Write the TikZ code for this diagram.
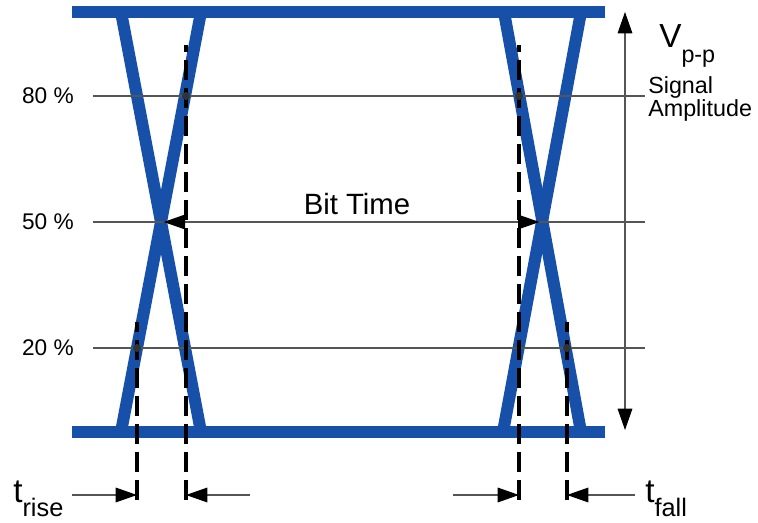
\documentclass[tikz,border=0pt]{standalone}
\usepackage{fontspec}
\setmainfont{Liberation Sans}
\usetikzlibrary{arrows.meta,positioning}
\definecolor{eyeBlue}{RGB}{22,80,168}
\definecolor{levelGray}{RGB}{85,85,85}

\begin{document}
\begin{tikzpicture}[
    x=0.75pt, y=-0.75pt,
    % Eye diagram traces
    eyeTrace/.style={
        draw=eyeBlue,
        line width=9pt
    },
    % Reference level lines
    levelLine/.style={
        draw=levelGray,
        line width=0.8pt
    },
    % Timing marker lines
    markLine/.style={
        draw=black,
        line width=2.6pt,
        dash pattern=on 15pt off 6pt
    },
    % Measurement arrows
    dimArrow/.style={
        draw=levelGray,
        line width=0.8pt,
        -{Triangle[length=16pt,width=11pt,color=black]}
    },
    % Crossing dots
    levelDot/.style={
        fill=black!80
    },
    % Text labels
    pctLabel/.style={
        anchor=east,
        inner sep=0pt,
        font=\fontsize{17}{17}\selectfont
    },
    sideLabel/.style={
        anchor=base west,
        inner sep=0pt,
        font=\fontsize{17.5}{17.5}\selectfont
    }
]

    \useasboundingbox (0,0) rectangle (758,523);

    % Levels
    \def\yTop{12}
    \def\yBot{432}

    % Level reference points
    \coordinate (crossL) at (161,222);
    \coordinate (crossR) at (542,222);
    \coordinate (riseHi) at (186,96);
    \coordinate (riseLo) at (137,348);
    \coordinate (fallHi) at (519,96);
    \coordinate (fallLo) at (567,348);

    % Rails
    \draw[eyeTrace] (72,\yTop) -- (605,\yTop);
    \draw[eyeTrace] (72,\yBot) -- (605,\yBot);

    % Left crossing
    \draw[eyeTrace] (121,\yTop) -- (201,\yBot);
    \draw[eyeTrace] (121,\yBot) -- (201,\yTop);

    % Right crossing
    \draw[eyeTrace] (504,\yTop) -- (581,\yBot);
    \draw[eyeTrace] (503,\yBot) -- (581,\yTop);

    % 80 / 50 / 20 % levels
    \draw[levelLine] (93,96) -- (645,96);
    \draw[levelLine] (93,222) -- (645,222);
    \draw[levelLine] (93,348) -- (645,348);

    \node[pctLabel] (lbl80) at (74,96) {80 \%};
    \node[pctLabel] (lbl50) at (74,222) {50 \%};
    \node[pctLabel] (lbl20) at (74,348) {20 \%};

    % Timing markers
    \draw[markLine] (riseLo |- 0,500) -- (riseLo |- 0,322);
    \draw[markLine] (riseHi |- 0,500) -- (riseHi |- 0,45);
    \draw[markLine] (fallHi |- 0,500) -- (fallHi |- 0,45);
    \draw[markLine] (fallLo |- 0,500) -- (fallLo |- 0,322);

    \foreach \p in {riseHi,riseLo,fallHi,fallLo}
        \fill[levelDot] (\p) circle[radius=3pt];

    % Bit time
    \draw[dimArrow, {Triangle[length=16pt,width=11pt,color=black]}-{Triangle[length=16pt,width=11pt,color=black]},
        shorten <=2pt, shorten >=2pt] (crossL) -- (crossR);
    \node[anchor=base, inner sep=0pt, font=\fontsize{22}{22}\selectfont] (bitTime) at (357,215) {Bit Time};

    % Signal amplitude
    \coordinate (ampTop) at (625,12);
    \coordinate (ampBot) at (625,430);
    \draw[dimArrow, {Triangle[length=16pt,width=11pt,color=black]}-{Triangle[length=16pt,width=11pt,color=black]}]
        (ampTop) -- (ampBot);
    \node[anchor=base west, inner sep=0pt] (vpp) at (659,48)
        {\fontsize{25}{25}\selectfont V\raisebox{-11pt}{\fontsize{17.5}{17.5}\selectfont p-p}};
    \node[sideLabel] (sigLbl) at (648,94) {Signal};
    \node[sideLabel] (ampLbl) at (648,117) {Amplitude};

    % Rise / fall time
    \coordinate (riseFrom) at (72,495);
    \coordinate (riseTo) at (250,495);
    \coordinate (fallFrom) at (453,495);
    \coordinate (fallTo) at (635,495);
    \draw[dimArrow] (riseFrom) -- (riseLo |- riseFrom);
    \draw[dimArrow] (riseTo) -- (riseHi |- riseTo);
    \draw[dimArrow] (fallFrom) -- (fallHi |- fallFrom);
    \draw[dimArrow] (fallTo) -- (fallLo |- fallTo);

    \node[anchor=base west, inner sep=0pt] (tRise) at (13,503)
        {\fontsize{25}{25}\selectfont t\raisebox{-10.5pt}{\fontsize{19}{19}\selectfont rise}};
    \node[anchor=base west, inner sep=0pt] (tFall) at (645,503)
        {\fontsize{25}{25}\selectfont t\raisebox{-10.5pt}{\fontsize{19}{19}\selectfont fall}};

\end{tikzpicture}
\end{document}
